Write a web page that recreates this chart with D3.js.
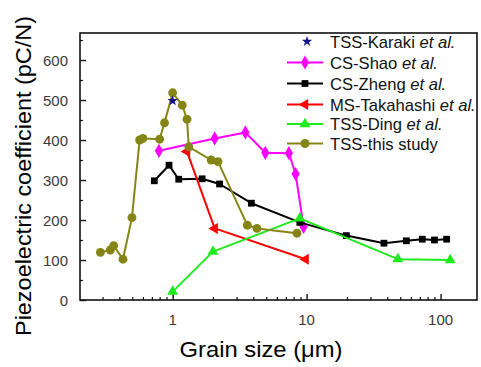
<!DOCTYPE html>
<html><head><meta charset="utf-8">
<script src="https://cdn.jsdelivr.net/npm/d3@7"></script>
<style>
body{margin:0;background:#fff}
svg{display:block}
text{font-family:"Liberation Sans",Arial,Helvetica,sans-serif}
</style>
</head><body>
<svg id="chart" width="481" height="367"></svg>
<script>
// Grain size (µm) and piezoelectric coefficient d33 (pC/N) per study
const karakiX = [1.0];
const karakiY = [498];
const shaoX = [0.79, 2.06, 3.49, 4.92, 7.38, 8.28, 9.5];
const shaoY = [373, 404, 419, 368, 367, 315, 183];
const zhengX = [0.73, 0.94, 1.11, 1.66, 2.24, 3.87, 8.9, 19.8, 37.8, 55.5, 73, 90, 111];
const zhengY = [298, 337, 302, 303, 290, 242, 194, 161, 142, 148, 152, 150, 152];
const takahashiX = [1.28, 2.06, 9.84];
const takahashiY = [371, 179, 102];
const dingX = [1.0, 2.0, 8.9, 48, 118];
const dingY = [21, 121, 204, 102, 100];
const thisX = [0.289, 0.343, 0.363, 0.426, 0.497, 0.567, 0.60, 0.80, 0.87, 1.0, 1.18, 1.28, 1.32, 1.94, 2.18, 3.61, 4.26, 8.47];
const thisY = [119, 125, 136, 102, 206, 400, 404, 402, 443, 518, 487, 452, 383, 350, 346, 187, 179, 167];

const seriesNames = ["TSS-Karaki", "CS-Shao", "CS-Zheng", "MS-Takahashi", "TSS-Ding", "TSS-this study"];
const seriesEtAl = [true, true, true, true, true, false];
const seriesColors = ["#10108a", "#ff00ff", "#000000", "#ff0000", "#1eea1e", "#858515"];

const yTicks = [0, 100, 200, 300, 400, 500, 600];
const xTicks = [1, 10, 100];

const svg = d3.select("#chart");
const mLeft = 80, mRight = 477, mTop = 33, mBottom = 300;

const x = d3.scaleLog().domain([0.2035, 187]).range([mLeft, mRight]);
const y = d3.scaleLinear().domain([0, 667.5]).range([mBottom, mTop]);

// frame
svg.append("rect")
  .attr("x", mLeft).attr("y", mTop)
  .attr("width", mRight - mLeft).attr("height", mBottom - mTop)
  .attr("fill", "none").attr("stroke", "#111").attr("stroke-width", 1.6);

// y axis: major ticks every 100, minor every 50, pointing inward
const yMinor = d3.range(50, 667, 100);
svg.append("g").attr("transform", `translate(${mLeft},0)`)
  .call(d3.axisRight(y).tickValues(yTicks).tickSize(6).tickFormat(""))
  .call(g => g.select(".domain").remove())
  .call(g => g.selectAll("line").attr("stroke", "#111").attr("stroke-width", 1.4));
svg.append("g").attr("transform", `translate(${mLeft},0)`)
  .call(d3.axisRight(y).tickValues(yMinor).tickSize(3).tickFormat(""))
  .call(g => g.select(".domain").remove())
  .call(g => g.selectAll("line").attr("stroke", "#111").attr("stroke-width", 1.2));
svg.append("g").selectAll("text").data(yTicks).join("text")
  .attr("x", 68).attr("y", d => y(d) + 5.5)
  .attr("text-anchor", "end").attr("font-size", 15).attr("fill", "#3a3a3a")
  .text(d => d);

// x axis: log decades with minor ticks
const xMinor = [];
[0.1, 1, 10].forEach(dec => { for (let k = 2; k <= 9; k++) { const v = dec * k; if (v > 0.21 && v < 185) xMinor.push(v); } });
svg.append("g").attr("transform", `translate(0,${mBottom})`)
  .call(d3.axisTop(x).tickValues(xTicks).tickSize(6).tickFormat(""))
  .call(g => g.select(".domain").remove())
  .call(g => g.selectAll("line").attr("stroke", "#111").attr("stroke-width", 1.4));
svg.append("g").attr("transform", `translate(0,${mBottom})`)
  .call(d3.axisTop(x).tickValues(xMinor).tickSize(3).tickFormat(""))
  .call(g => g.select(".domain").remove())
  .call(g => g.selectAll("line").attr("stroke", "#111").attr("stroke-width", 1.2));
svg.append("g").selectAll("text").data(xTicks).join("text")
  .attr("x", d => x(d)).attr("y", 325)
  .attr("text-anchor", "middle").attr("font-size", 15).attr("fill", "#3a3a3a")
  .text(d => d);

// axis titles
svg.append("text")
  .attr("x", 261).attr("y", 357)
  .attr("text-anchor", "middle").attr("font-size", 22)
  .attr("textLength", 163).attr("lengthAdjust", "spacingAndGlyphs")
  .text("Grain size (μm)");
svg.append("text")
  .attr("transform", "translate(31,176) rotate(-90)")
  .attr("text-anchor", "middle").attr("font-size", 22)
  .attr("textLength", 320).attr("lengthAdjust", "spacingAndGlyphs")
  .text("Piezoelectric coefficient (pC/N)");

// markers
const markerPath = {
  circle: d3.symbol(d3.symbolCircle, 62)(),
  diamond: d3.symbol(d3.symbolDiamond, 58)(),
  square: d3.symbol(d3.symbolSquare, 46)(),
  triLeft: d3.symbol(d3.symbolTriangle, 52)(),
  triUp: d3.symbol(d3.symbolTriangle, 52)(),
  star: d3.symbol(d3.symbolStar, 34)()
};
const markerRot = { triLeft: -90 };
const seriesMarkers = ["star", "diamond", "square", "triLeft", "triUp", "circle"];

const seriesData = [
  [karakiX, karakiY], [shaoX, shaoY], [zhengX, zhengY],
  [takahashiX, takahashiY], [dingX, dingY], [thisX, thisY]
].map(([xs, ys]) => xs.map((v, i) => [v, ys[i]]));

const line = d3.line().x(d => x(d[0])).y(d => y(d[1]));
const plot = svg.append("g");

function drawSeries(i) {
  const pts = seriesData[i];
  const col = seriesColors[i];
  const g = plot.append("g");
  if (pts.length > 1) {
    g.append("path").attr("d", line(pts)).attr("fill", "none")
      .attr("stroke", col).attr("stroke-width", 2).attr("stroke-linejoin", "round");
  }
  const m = seriesMarkers[i];
  g.selectAll("path.m").data(pts).join("path").attr("class", "m")
    .attr("d", markerPath[m]).attr("fill", col)
    .attr("transform", d => `translate(${x(d[0])},${y(d[1])}) rotate(${markerRot[m] || 0})`);
}
[1, 2, 3, 4, 5, 0].forEach(drawSeries);

// legend
const legend = svg.append("g");
const rowY = [41.5, 62.5, 83.5, 104.5, 124, 143.5];
seriesNames.forEach((name, i) => {
  const cy = rowY[i];
  const col = seriesColors[i];
  const m = seriesMarkers[i];
  if (i > 0) {
    legend.append("line").attr("x1", 287).attr("x2", 323).attr("y1", cy).attr("y2", cy)
      .attr("stroke", col).attr("stroke-width", 2);
  }
  legend.append("path").attr("d", markerPath[m]).attr("fill", col)
    .attr("transform", `translate(${i === 0 ? 307 : 305},${cy}) rotate(${markerRot[m] || 0})`);
  const t = legend.append("text").attr("x", 330).attr("y", cy + 6)
    .attr("font-size", 16.6).attr("fill", "#111");
  t.append("tspan").text(name);
  if (seriesEtAl[i]) t.append("tspan").attr("font-style", "italic").text(" et al.");
});
</script>
</body></html>
